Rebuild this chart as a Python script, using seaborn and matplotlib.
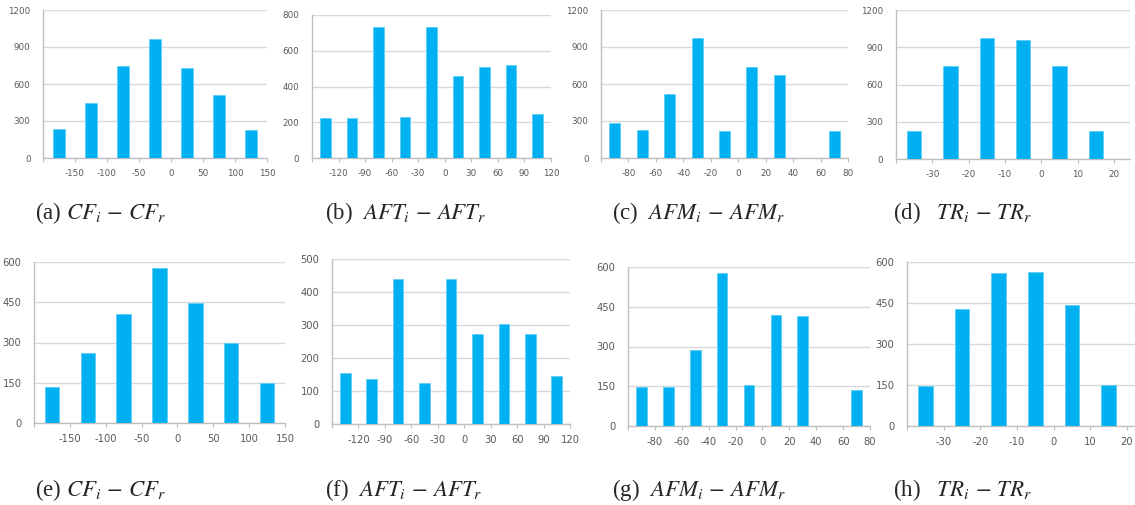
import numpy as np
import matplotlib.pyplot as plt
import seaborn as sns

sns.set_style('white')
plt.rcParams['mathtext.fontset'] = 'stix'
plt.rcParams['font.family'] = ['DejaVu Sans']

bar_color = '#00B0F0'
grid_color = '#d9d9d9'
axis_color = '#bfbfbf'
label_color = '#595959'

# bin centres and counts
cf_centers = [-175, -125, -75, -25, 25, 75, 125]
cf_top = [235, 445, 742, 968, 731, 508, 224]
cf_bot = [134, 260, 408, 579, 449, 300, 150]

aft_centers = [-135, -105, -75, -45, -15, 15, 45, 75, 105]
aft_top = [223, 222, 731, 228, 731, 456, 510, 518, 245]
aft_bot = [154, 135, 438, 124, 438, 272, 302, 272, 144]

afm_centers = [-90, -70, -50, -30, -10, 10, 30, 50, 70]
afm_top = [280, 224, 520, 970, 221, 736, 674, 0, 221]
afm_bot = [149, 149, 285, 578, 156, 419, 415, 0, 136]

tr_centers = [-35, -25, -15, -5, 5, 15]
tr_top = [228, 749, 972, 956, 746, 228]
tr_bot = [146, 427, 561, 563, 444, 151]

captions = [r'(a) $CF_i\,-\,CF_r$', r'(b)  $AFT_i\,-\,AFT_r$',
            r'(c)  $AFM_i\,-\,AFM_r$', r'(d)   $TR_i\,-\,TR_r$',
            r'(e) $CF_i\,-\,CF_r$', r'(f)  $AFT_i\,-\,AFT_r$',
            r'(g)  $AFM_i\,-\,AFM_r$', r'(h)   $TR_i\,-\,TR_r$']

W, H = 1135, 505

# (pixel box l, r, top, bottom), centres, counts, bin width, xlim, xtick step, ymax, ystep
panels = [
    ((43, 267, 10, 158), cf_centers, cf_top, 50, (-200, 150), 50, 1200, 300),
    ((312, 551, 15, 158), aft_centers, aft_top, 30, (-150, 120), 30, 800, 200),
    ((601, 848, 10, 158), afm_centers, afm_top, 20, (-100, 80), 20, 1200, 300),
    ((896, 1130, 10, 159), tr_centers, tr_top, 10, (-40, 24.4), 10, 1200, 300),
    ((34, 285, 262, 423), cf_centers, cf_bot, 50, (-200, 150), 50, 600, 150),
    ((332, 570, 259, 424), aft_centers, aft_bot, 30, (-150, 120), 30, 500, 100),
    ((628, 870, 267, 426), afm_centers, afm_bot, 20, (-100, 80), 20, 600, 150),
    ((907, 1135, 262, 426), tr_centers, tr_bot, 10, (-40, 22.2), 10, 600, 150),
]
cap_pos = [(35, 213), (325, 213), (612, 213), (893, 213),
           (35, 490), (325, 490), (612, 490), (893, 490)]

fig = plt.figure(figsize=(W / 100, H / 100), dpi=100)

for i, (box, centers, counts, w, xlim, xstep, ymax, ystep) in enumerate(panels):
    l, r, t, b = box
    ax = fig.add_axes([l / W, 1 - b / H, (r - l) / W, (b - t) / H])
    lo = centers[0] - w / 2
    hi = centers[-1] + w / 2
    sns.histplot(x=centers, weights=counts, binwidth=w, binrange=(lo, hi),
                 shrink=0.4, color=bar_color, edgecolor='#5cd0f7', linewidth=0.6,
                 alpha=1, ax=ax, zorder=3)
    ax.set_xlim(*xlim)
    ax.set_ylim(0, ymax)
    xt = np.arange(xlim[0], xlim[1] + 0.01, xstep)
    ax.set_xticks(xt)
    ax.set_xticklabels([''] + ['%d' % v for v in xt[1:]])
    ax.set_yticks(np.arange(0, ymax + 1, ystep))
    ax.set_xlabel('')
    ax.set_ylabel('')
    ax.yaxis.grid(True, color=grid_color, linewidth=1)
    ax.set_axisbelow(True)
    for s in ['top', 'right']:
        ax.spines[s].set_visible(False)
    for s in ['left', 'bottom']:
        ax.spines[s].set_color(axis_color)
        ax.spines[s].set_linewidth(1)
    fs = 6.3 if i < 4 else 7.2
    ax.tick_params(axis='both', labelsize=fs, labelcolor=label_color,
                   color=axis_color, length=3, width=0.8, direction='out')
    ax.tick_params(axis='x', bottom=True, pad=5)
    ax.tick_params(axis='y', left=False, pad=6)

    cx, cy = cap_pos[i]
    fig.text(cx / W, 1 - cy / H, captions[i], fontsize=16.5,
             family=['Liberation Serif', 'DejaVu Serif'], va='center', ha='left')

fig.savefig('out.png', dpi=100)
